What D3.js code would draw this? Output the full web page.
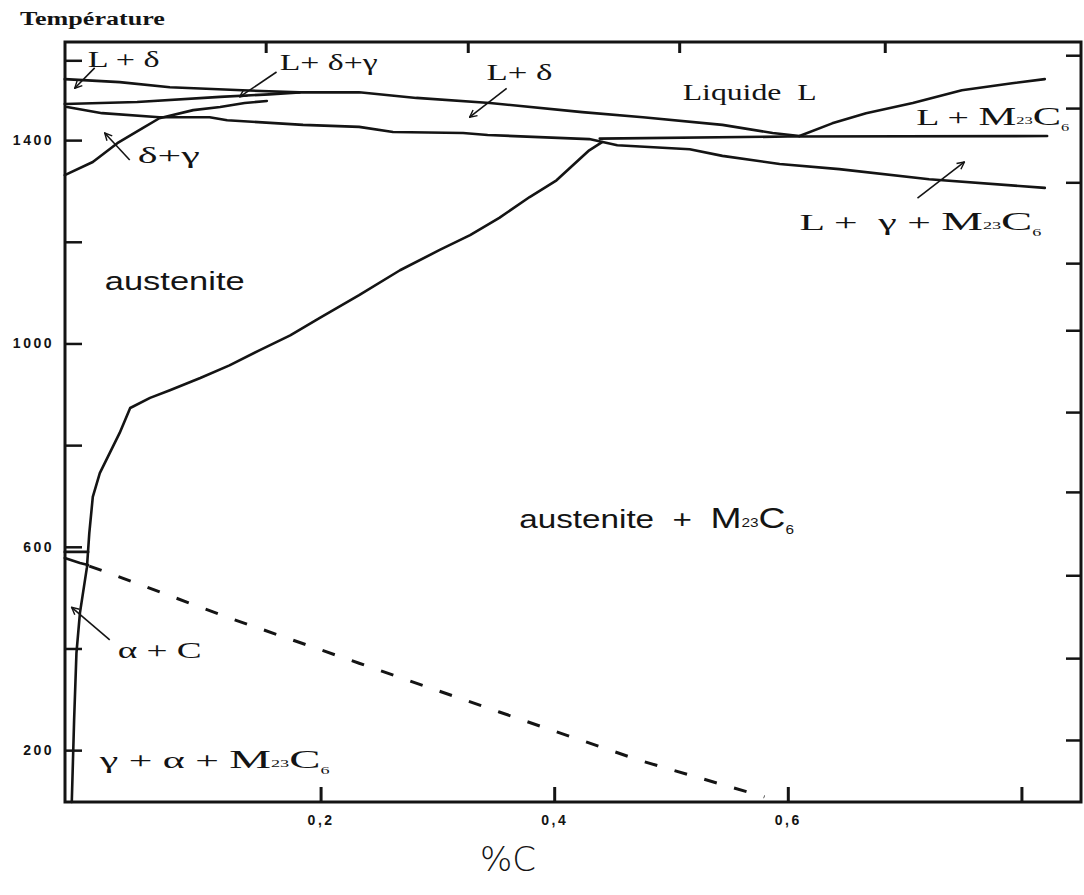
<!DOCTYPE html>
<html>
<head>
<meta charset="utf-8">
<script src="https://cdn.jsdelivr.net/npm/d3@7"></script>
<style>
  html, body { margin: 0; padding: 0; background: #fff; }
  svg { display: block; }
</style>
</head>
<body>
<svg id="chart" width="1084" height="895"></svg>
<script>
// Vertical section of the Fe–Cr–C system: temperature against carbon content (% C)

// Axis ticks
const xTickValues = [0.2, 0.4, 0.6, 0.8];
const xTickLabels = ["0,2", "0,4", "0,6", ""];
const yTickValues = [200, 400, 600, 800, 1000, 1200, 1400, 1557];
const yTickLabels = ["200", "", "600", "", "1000", "", "1400", ""];
const topTickValues = [0.153, 0.326, 0.507, 0.683];
const rightTickValues = [1567, 1463, 1317, 1158, 1026, 865, 708, 544, 381, 220];

// Phase boundaries, each as [% C, temperature °C]
const liquidusDelta = [
  [-0.019, 1520], [0.028, 1514], [0.071, 1504], [0.133, 1498], [0.182, 1494],
  [0.233, 1494], [0.282, 1483], [0.345, 1473], [0.424, 1455], [0.476, 1445],
  [0.544, 1430], [0.587, 1414], [0.610, 1408]
];
const liquidusCarbide = [
  [0.610, 1408], [0.638, 1433], [0.667, 1453], [0.707, 1473], [0.749, 1498],
  [0.792, 1512], [0.820, 1520]
];
const deltaSolidus = [
  [-0.019, 1471], [0.043, 1475], [0.114, 1485], [0.156, 1490], [0.182, 1494]
];
const deltaGamma = [
  [-0.019, 1331], [0.005, 1357], [0.026, 1394], [0.048, 1424], [0.062, 1443],
  [0.091, 1459], [0.114, 1465], [0.135, 1473], [0.154, 1477]
];
const gammaSolidus = [
  [-0.017, 1465], [0.013, 1453], [0.062, 1445], [0.105, 1445], [0.120, 1439],
  [0.185, 1430], [0.233, 1426], [0.262, 1416], [0.322, 1414], [0.343, 1410],
  [0.430, 1402], [0.454, 1390], [0.516, 1382], [0.544, 1369], [0.593, 1353],
  [0.644, 1343], [0.721, 1323], [0.820, 1306]
];
const threePhaseLine = [
  [0.439, 1403], [0.600, 1407], [0.822, 1408]
];
const carbideSolvus = [
  [0.441, 1396], [0.430, 1380], [0.402, 1321], [0.379, 1288], [0.353, 1247],
  [0.328, 1213], [0.302, 1184], [0.268, 1144], [0.233, 1095], [0.199, 1050],
  [0.174, 1016], [0.148, 987], [0.122, 957], [0.097, 932], [0.071, 908],
  [0.054, 893], [0.037, 873], [0.028, 824], [0.011, 745], [0.005, 698],
  [0.002, 627], [0.000, 560], [-0.006, 470], [-0.009, 391], [-0.011, 259],
  [-0.013, 98]
];
const ferriteTop = [[-0.019, 590], [0.001, 590]];
const ferriteBottom = [[-0.019, 578], [-0.006, 568], [0.001, 564]];
const carbideDashed = [
  [0.002, 562], [0.017, 550], [0.122, 460], [0.233, 371], [0.353, 275],
  [0.473, 180], [0.580, 108]
];

// Region names; each part is [text, "main" | "sub" | "low"]
const M23C6 = [["M", "main"], ["23", "sub"], ["C", "main"], ["6", "low"]];
const regionLabels = [
  { parts: [["L + δ", "main"]], at: [0.0006, 1544], w: 72, font: "serif" },
  { parts: [["L+ δ+γ", "main"]], at: [0.165, 1538], w: 98, font: "serif" },
  { parts: [["L+ δ", "main"]], at: [0.342, 1518], w: 66, font: "serif" },
  { parts: [["Liquide  L", "main"]], at: [0.510, 1479], w: 134, font: "serif" },
  { parts: [["L + ", "main"], ...M23C6], at: [0.710, 1430], w: 153, font: "serif" },
  { parts: [["L +  γ + ", "main"], ...M23C6], at: [0.610, 1223], w: 242, font: "serif" },
  { parts: [["δ+γ", "main"]], at: [0.0435, 1355], w: 62, font: "serif" },
  { parts: [["austenite", "main"]], at: [0.0152, 1105], w: 140, font: "sans" },
  { parts: [["austenite  +  ", "main"], ...M23C6], at: [0.370, 637], w: 275, font: "sans" },
  { parts: [["α + C", "main"]], at: [0.0263, 381], w: 84, font: "serif" },
  { parts: [["γ + α + ", "main"], ...M23C6], at: [0.0109, 165], w: 230, font: "serif" }
];

// Pointer arrows from labels into narrow fields: [from, to]
const pointers = [
  [[0.0066, 1542], [-0.0105, 1502]],
  [[0.1623, 1534], [0.1307, 1485]],
  [[0.3593, 1502], [0.3276, 1445]],
  [[0.0366, 1361], [0.0152, 1414]],
  [[0.7110, 1286], [0.7512, 1357]],
  [[0.0195, 417], [-0.0131, 481]]
];

const svg = d3.select("#chart");
const W = 1084, H = 895;
const margin = { left: 65, right: 3, top: 42, bottom: 93 };

const x = d3.scaleLinear().domain([-0.0188, 0.851]).range([margin.left, W - margin.right]);
const y = d3.scaleLinear().domain([98, 1593]).range([H - margin.bottom, margin.top]);

const ink = "#141414";

svg.append("defs").append("marker")
  .attr("id", "tip")
  .attr("viewBox", "0 0 10 10")
  .attr("refX", 9).attr("refY", 5)
  .attr("markerWidth", 9).attr("markerHeight", 9)
  .attr("markerUnits", "userSpaceOnUse")
  .attr("orient", "auto")
  .append("path")
  .attr("d", "M1,1 L9,5 L1,9")
  .attr("fill", "none")
  .attr("stroke", ink)
  .attr("stroke-width", 1.6);

// Frame
const [x0, x1] = x.range();
const [y1, y0] = y.range();
svg.append("rect")
  .attr("x", x0).attr("y", y0)
  .attr("width", x1 - x0).attr("height", y1 - y0)
  .attr("fill", "none").attr("stroke", ink).attr("stroke-width", 3);

const tickFont = sel => sel
  .attr("fill", ink)
  .style("font-family", "'Liberation Sans', Arial, sans-serif")
  .style("font-weight", "bold").style("font-size", "14px")
  .style("letter-spacing", "2.5px");

// Bottom axis: inward ticks and labels
const bottomAxis = d3.axisBottom(x).tickValues(xTickValues)
  .tickSize(-15).tickPadding(13)
  .tickFormat((d, i) => xTickLabels[i]);
const gb = svg.append("g").attr("transform", `translate(0,${y1})`).call(bottomAxis);
gb.select(".domain").remove();
gb.selectAll(".tick line").attr("stroke", ink).attr("stroke-width", 3);
gb.selectAll(".tick text").call(tickFont);

// Top axis: short inward ticks
const topAxis = d3.axisTop(x).tickValues(topTickValues).tickSize(-11).tickFormat("");
const gt = svg.append("g").attr("transform", `translate(0,${y0})`).call(topAxis);
gt.select(".domain").remove();
gt.selectAll(".tick line").attr("stroke", ink).attr("stroke-width", 3);

// Left axis
const leftAxis = d3.axisLeft(y).tickValues(yTickValues)
  .tickSize(-17).tickPadding(11)
  .tickFormat((d, i) => yTickLabels[i]);
const gl = svg.append("g").attr("transform", `translate(${x0},0)`).call(leftAxis);
gl.select(".domain").remove();
gl.selectAll(".tick line").attr("stroke", ink).attr("stroke-width", 2.5);
gl.selectAll(".tick text").call(tickFont);

// Right axis
const rightAxis = d3.axisRight(y).tickValues(rightTickValues).tickSize(-15).tickFormat("");
const gr = svg.append("g").attr("transform", `translate(${x1},0)`).call(rightAxis);
gr.select(".domain").remove();
gr.selectAll(".tick line").attr("stroke", ink).attr("stroke-width", 2.5);

// Axis titles
const yTitle = svg.append("text")
  .attr("fill", ink)
  .style("font-family", "'Liberation Serif', 'Times New Roman', serif")
  .style("font-weight", "bold").style("font-size", "19px")
  .text("Température");
yTitle.attr("transform", `translate(20,25) scale(${145 / yTitle.node().getComputedTextLength()},1)`);

svg.append("text")
  .attr("x", 508).attr("y", 871)
  .attr("text-anchor", "middle")
  .attr("fill", ink)
  .style("font-family", "'DejaVu Sans', 'Liberation Sans', sans-serif")
  .style("font-weight", "200")
  .style("font-size", "34px")
  .text("%C");

// Phase boundaries
const line = d3.line().x(d => x(d[0])).y(d => y(d[1]));
const boundaries = [liquidusDelta, liquidusCarbide, deltaSolidus, deltaGamma,
  gammaSolidus, threePhaseLine, carbideSolvus, ferriteTop, ferriteBottom];
svg.append("g").selectAll("path").data(boundaries).join("path")
  .attr("d", line)
  .attr("fill", "none")
  .attr("stroke", ink)
  .attr("stroke-width", 2.6)
  .attr("stroke-linejoin", "round")
  .attr("stroke-linecap", "round");

svg.append("path")
  .datum(carbideDashed)
  .attr("d", line)
  .attr("fill", "none")
  .attr("stroke", ink)
  .attr("stroke-width", 3)
  .attr("stroke-dasharray", "13 18");

// Pointers
svg.append("g").selectAll("line").data(pointers).join("line")
  .attr("x1", d => x(d[0][0])).attr("y1", d => y(d[0][1]))
  .attr("x2", d => x(d[1][0])).attr("y2", d => y(d[1][1]))
  .attr("stroke", ink).attr("stroke-width", 1.6)
  .attr("marker-end", "url(#tip)");

// Region names, stretched horizontally to their set width
const fonts = {
  serif: { family: "'Liberation Serif', 'Times New Roman', serif", size: 23 },
  sans: { family: "'Liberation Sans', Arial, sans-serif", size: 26 }
};
regionLabels.forEach(lab => {
  const f = fonts[lab.font];
  const g = svg.append("g")
    .attr("transform", `translate(${x(lab.at[0])},${y(lab.at[1])})`);
  const t = g.append("text")
    .attr("fill", ink)
    .style("font-family", f.family)
    .style("font-size", f.size + "px")
    .attr("xml:space", "preserve")
    .style("white-space", "pre");
  let shift = 0;
  lab.parts.forEach(([txt, kind]) => {
    const span = t.append("tspan").text(txt);
    let dy = 0, size = f.size;
    if (kind === "sub") { size = Math.round(f.size * 0.45); dy = -1; }
    if (kind === "low") { size = Math.round(f.size * 0.45); dy = 6; }
    if (kind === "main" && (txt === "C" || txt === "M")) size = f.size * 1.12;
    span.style("font-size", size + "px").attr("dy", dy - shift);
    shift = dy;
  });
  const natural = t.node().getComputedTextLength();
  t.attr("transform", `scale(${lab.w / natural},1)`);
});
</script>
</body>
</html>
